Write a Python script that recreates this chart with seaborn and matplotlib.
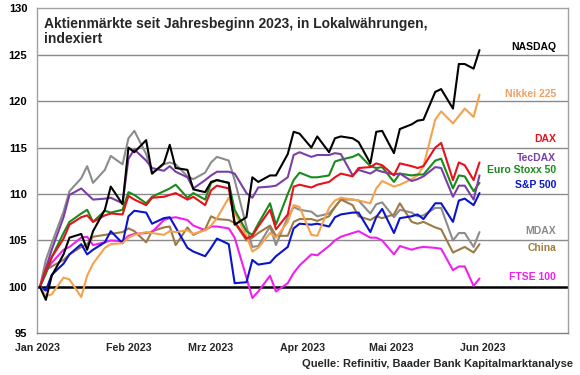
import matplotlib
matplotlib.use("Agg")
import matplotlib.pyplot as plt
import matplotlib.transforms as mtransforms
import seaborn as sns
import pandas as pd

# ---------------- data ----------------
dates = [
    "2023-01-02", "2023-01-04", "2023-01-06", "2023-01-10", "2023-01-12", "2023-01-16",
    "2023-01-18", "2023-01-20", "2023-01-24", "2023-01-26", "2023-01-30",
    "2023-02-01", "2023-02-03", "2023-02-07", "2023-02-09", "2023-02-13", "2023-02-15",
    "2023-02-17", "2023-02-21", "2023-02-23", "2023-02-27",
    "2023-03-01", "2023-03-03", "2023-03-07", "2023-03-09", "2023-03-13", "2023-03-15",
    "2023-03-17", "2023-03-21", "2023-03-23", "2023-03-27", "2023-03-29", "2023-03-31",
    "2023-04-04", "2023-04-06", "2023-04-10", "2023-04-12", "2023-04-14", "2023-04-18",
    "2023-04-20", "2023-04-24", "2023-04-26", "2023-04-28",
    "2023-05-02", "2023-05-04", "2023-05-08", "2023-05-10", "2023-05-12", "2023-05-16",
    "2023-05-18", "2023-05-22", "2023-05-24", "2023-05-26", "2023-05-29", "2023-05-31",
]

nasdaq = [100, 98.6, 101.2, 103.5, 105.3, 105.7, 104.0, 106.0, 108.3, 110.8, 108.9,
          115.0, 114.5, 115.8, 112.2, 113.3, 115.3, 112.8, 112.6, 110.5, 110.2,
          111.3, 111.5, 111.2, 106.7, 107.5, 111.8, 111.3, 112.0, 112.0, 114.3, 116.7, 116.5,
          115.0, 116.2, 114.5, 116.0, 116.2, 116.0, 115.6, 113.3, 116.7, 116.8,
          114.4, 117.0, 117.5, 117.9, 118.0, 121.0, 121.3, 119.2, 124.0, 124.0, 123.5, 125.5]

nikkei = [100, 99.0, 99.2, 101.0, 100.8, 98.9, 101.2, 102.5, 104.2, 104.6, 104.7,
          105.3, 105.6, 105.9, 105.8, 105.6, 106.0, 105.9, 106.1, 105.7, 106.1,
          106.6, 107.4, 109.6, 108.0, 105.5, 103.8, 104.2, 105.8, 105.3, 107.0, 108.8, 108.6,
          105.6, 105.5, 108.5, 109.3, 109.6, 109.4, 109.3, 109.0, 110.6, 111.4,
          110.8, 111.0, 111.6, 112.0, 113.0, 118.0, 118.9, 117.6, 118.4, 119.2, 118.3, 120.7]

dax = [100, 101.8, 103.2, 105.2, 106.7, 107.5, 107.7, 107.0, 107.7, 107.9, 107.8,
       109.8, 109.4, 108.8, 109.6, 109.7, 109.9, 110.1, 109.4, 109.7, 108.8,
       110.4, 110.9, 110.6, 107.0, 105.2, 105.5, 106.5, 108.3, 106.2, 107.8, 110.8, 111.0,
       110.7, 111.0, 111.3, 111.8, 112.2, 111.9, 112.8, 112.9, 113.3, 113.1,
       112.0, 113.3, 113.0, 112.8, 113.0, 115.0, 115.5, 111.5, 113.4, 113.1, 111.5, 113.4]

eurostoxx = [100, 101.4, 103.2, 105.8, 107.0, 107.9, 108.3, 107.0, 108.2, 108.0, 108.3,
             110.2, 109.9, 109.0, 109.7, 110.3, 110.6, 111.0, 109.6, 110.1, 109.4,
             111.2, 111.5, 111.2, 108.3, 106.0, 105.6, 106.8, 109.0, 106.7, 110.0, 111.5, 112.3,
             111.8, 111.8, 112.0, 113.5, 113.7, 114.0, 114.3, 113.0, 112.8, 112.9,
             111.3, 112.2, 112.0, 112.1, 112.1, 113.6, 113.8, 110.6, 112.0, 111.9, 110.3, 111.2]

tecdax = [100, 102.0, 104.0, 107.5, 109.9, 110.6, 110.0, 109.4, 109.5, 109.6, 109.0,
          113.8, 114.8, 113.6, 112.8, 112.5, 113.0, 112.4, 111.8, 110.6, 111.5,
          112.0, 112.4, 112.4, 112.2, 110.1, 109.6, 110.7, 110.8, 110.9, 111.8, 114.2, 114.5,
          114.0, 114.2, 114.2, 114.4, 114.3, 112.0, 112.6, 112.2, 112.6, 112.4,
          112.1, 112.2, 111.4, 111.6, 111.9, 112.9, 112.8, 109.7, 110.9, 110.9, 109.4, 112.0]

sp500 = [100, 99.6, 101.3, 102.5, 103.5, 104.6, 103.5, 104.0, 104.8, 106.0, 104.7,
         107.6, 108.2, 108.0, 106.8, 107.4, 107.5, 106.4, 104.2, 103.8, 103.3,
         104.2, 105.2, 104.6, 100.4, 100.5, 102.9, 102.4, 102.6, 103.3, 104.3, 106.3, 106.8,
         106.7, 106.8, 106.5, 107.5, 107.8, 108.0, 108.0, 105.9, 107.5, 108.4,
         105.8, 107.4, 107.6, 107.8, 107.3, 109.0, 109.0, 107.0, 109.3, 109.5, 108.8, 110.1]

mdax = [100, 102.9, 104.7, 108.1, 110.3, 111.7, 113.0, 111.2, 112.6, 114.1, 113.2,
        116.0, 116.8, 114.3, 112.2, 113.2, 113.4, 113.2, 111.9, 111.6, 112.3,
        113.4, 114.0, 113.6, 111.5, 106.5, 104.3, 104.4, 106.5, 104.5, 107.5, 108.6, 108.3,
        108.1, 107.6, 107.9, 108.6, 109.4, 109.4, 109.3, 107.9, 108.9, 109.1,
        107.5, 108.3, 108.0, 107.6, 107.7, 108.5, 108.5, 105.0, 105.8, 105.8, 104.3, 105.9]

china = [100, 101.8, 102.2, 102.9, 103.5, 104.3, 104.6, 105.4, 105.6, 105.7, 105.9,
         106.3, 106.0, 104.8, 106.0, 106.4, 106.5, 104.5, 106.4, 105.6, 106.2,
         107.6, 107.3, 107.2, 106.9, 105.0, 105.3, 105.8, 106.6, 105.5, 105.5, 107.0, 107.3,
         107.3, 107.1, 107.6, 108.6, 109.4, 108.8, 107.6, 107.2, 107.6, 107.4,
         107.8, 109.0, 107.0, 106.8, 107.0, 106.4, 106.2, 103.7, 104.0, 104.3, 103.7, 104.6]

ftse = [100, 101.6, 102.6, 104.0, 104.3, 105.3, 105.4, 104.5, 104.8, 105.0, 104.9,
        105.5, 105.7, 105.8, 105.9, 107.2, 107.4, 107.5, 107.2, 106.6, 106.1,
        106.5, 106.5, 106.3, 105.3, 101.0, 98.8, 99.5, 101.2, 99.5, 100.4, 101.5, 102.3,
        103.5, 103.4, 104.4, 105.0, 105.4, 105.8, 106.0, 105.3, 105.3, 105.0,
        103.5, 104.4, 104.0, 104.2, 104.3, 104.2, 104.1, 101.8, 102.2, 102.2, 100.1, 100.9]

names = ["MDAX", "China", "FTSE 100", "S&P 500", "Nikkei 225",
         "Euro Stoxx 50", "TecDAX", "DAX", "NASDAQ"]
series = [mdax, china, ftse, sp500, nikkei, eurostoxx, tecdax, dax, nasdaq]

label_values = {"NASDAQ": 125.8, "Nikkei 225": 120.8, "DAX": 115.9, "TecDAX": 113.9,
                "Euro Stoxx 50": 112.6, "S&P 500": 111.0, "MDAX": 106.0,
                "China": 104.2, "FTSE 100": 101.1}

month_ticks = ["2023-01-01", "2023-02-01", "2023-03-01", "2023-04-01", "2023-05-01", "2023-06-01"]
month_labels = ["Jan 2023", "Feb 2023", "Mrz 2023", "Apr 2023", "Mai 2023", "Jun 2023"]
y_ticks = [95, 100, 105, 110, 115, 120, 125, 130]

title = "Aktienmärkte seit Jahresbeginn 2023, in Lokalwährungen,\nindexiert"
source = "Quelle: Refinitiv, Baader Bank Kapitalmarktanalyse"

# ---------------- styles ----------------
line_colors = {"NASDAQ": "#000000", "Nikkei 225": "#F5A24C", "DAX": "#E8101A",
               "TecDAX": "#7A3FA6", "Euro Stoxx 50": "#1A8A1A", "S&P 500": "#0A14CC",
               "MDAX": "#8C8C8C", "China": "#9C7A45", "FTSE 100": "#F020F0"}
text_colors = dict(line_colors)
text_colors.update({"Nikkei 225": "#F0A060", "China": "#A08040", "MDAX": "#8A8A8A",
                    "TecDAX": "#7A3FA6"})

sns.set_theme(style="white")
plt.rcParams["font.family"] = ["Liberation Sans", "DejaVu Sans"]

W, H = 580, 375
fig = plt.figure(figsize=(W / 100, H / 100), dpi=100)
left, right, top, bottom = 37, 568, 8.3, 333.3
ax = fig.add_axes([left / W, 1 - bottom / H, (right - left) / W, (bottom - top) / H])

frames = []
for name, vals in zip(names, series):
    frames.append(pd.DataFrame({"date": pd.to_datetime(dates), "value": vals, "index": name}))
long_df = pd.concat(frames, ignore_index=True)

for v in [105, 110, 115, 120, 125]:
    ax.axhline(v, color="#8a8a8a", lw=1.0, zorder=0)
ax.axhline(100, color="#000000", lw=1.8, zorder=1)

sns.lineplot(data=long_df, x="date", y="value", hue="index", hue_order=names,
             palette=line_colors, linewidth=1.5, legend=False, ax=ax, zorder=3)

ax.set_xlim(pd.Timestamp("2023-01-01"), pd.Timestamp("2023-06-30"))
ax.set_ylim(95, 130)
ax.set_xlabel("")
ax.set_ylabel("")

ax.set_yticks(y_ticks)
ax.set_yticklabels([str(t) for t in y_ticks], fontsize=8, fontweight="bold")
ax.tick_params(axis="y", length=0, pad=7, colors="#000000")

ax.set_xticks(pd.to_datetime(month_ticks))
ax.set_xticklabels(month_labels, fontsize=7.7, fontweight="bold")
ax.tick_params(axis="x", direction="in", length=4, width=1, color="#808080", pad=7)

for s in ["left", "top", "right"]:
    ax.spines[s].set_color("#a0a0a0")
    ax.spines[s].set_linewidth(1.0)
ax.spines["bottom"].set_color("#808080")
ax.spines["bottom"].set_linewidth(1.0)

trans = mtransforms.blended_transform_factory(ax.transAxes, ax.transData)
for name, yv in label_values.items():
    ax.text((556 - left) / (right - left), yv, name, transform=trans, ha="right", va="center",
            fontsize=7.5, fontweight="bold", color=text_colors[name], zorder=5)

fig.text(44 / W, 1 - 17 / H, title, ha="left", va="top", fontsize=10, fontweight="bold",
         linespacing=1.05)
fig.text(573 / W, 1 - 364 / H, source, ha="right", va="center", fontsize=8, fontweight="bold")

fig.savefig("out.png", dpi=100)
